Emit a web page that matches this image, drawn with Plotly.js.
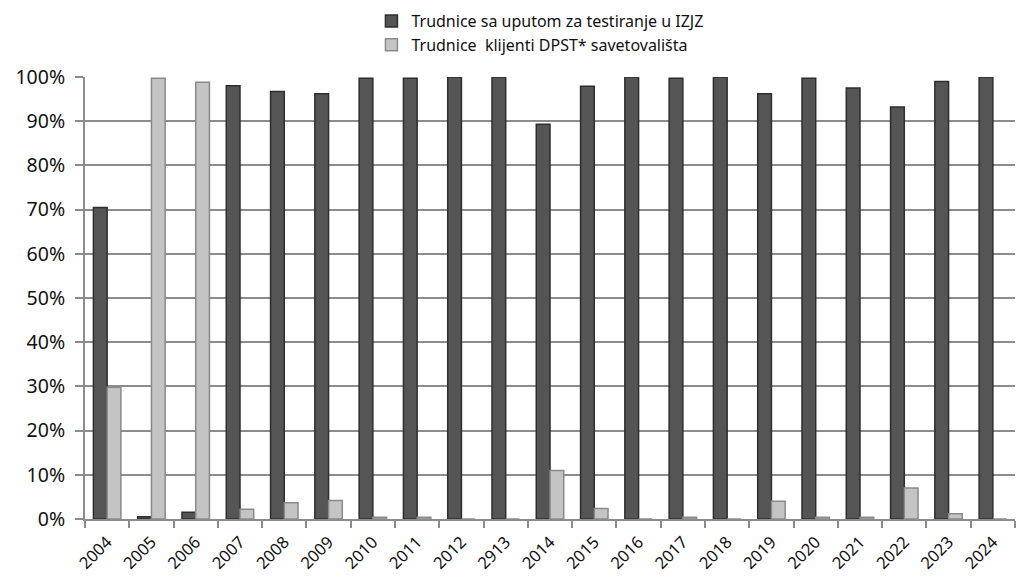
<!DOCTYPE html>
<html>
<head>
<meta charset="utf-8">
<script src="https://cdn.plot.ly/plotly-3.0.1.min.js"></script>
<style>html,body{margin:0;padding:0;background:#fff;}#chart{width:1022px;height:586px;}</style>
</head>
<body>
<div id="chart"></div>
<script>
const years = ["2004","2005","2006","2007","2008","2009","2010","2011","2012","2913","2014","2015","2016","2017","2018","2019","2020","2021","2022","2023","2024"];
const seriesIZJZ = [0.705,0.005,0.015,0.98,0.967,0.962,0.997,0.997,1.0,1.0,0.893,0.979,1.0,0.997,1.0,0.962,0.997,0.975,0.932,0.99,1.0];
const seriesDPST = [0.298,0.997,0.988,0.022,0.037,0.042,0.004,0.004,0.0,0.0,0.11,0.024,0.0,0.004,0.0,0.04,0.004,0.004,0.07,0.012,0.0];
const nameIZJZ = "Trudnice sa uputom za testiranje u IZJZ";
const nameDPST = "Trudnice  klijenti DPST* savetovališta";
const yTicks = [0,0.1,0.2,0.3,0.4,0.5,0.6,0.7,0.8,0.9,1.0];
const yTickText = ["0%","10%","20%","30%","40%","50%","60%","70%","80%","90%","100%"];

const font = "Noto Sans, Open Sans, sans-serif";
const data = [
  {type:"bar", x:years, y:seriesIZJZ, name:nameIZJZ,
   marker:{color:"#555555", line:{color:"#2e2e2e", width:1.5}}},
  {type:"bar", x:years, y:seriesDPST, name:nameDPST,
   marker:{color:"#c4c4c4", line:{color:"#8a8a8a", width:1.5}}}
];
const layout = {
  width:1022, height:586,
  margin:{l:85, r:7, t:77, b:67, autoexpand:false},
  paper_bgcolor:"#ffffff", plot_bgcolor:"#ffffff",
  font:{family:font, color:"#111111"},
  barmode:"group", bargap:0.38, bargroupgap:0,
  showlegend:true,
  legend:{x:0.308, y:1.165, xanchor:"left", yanchor:"top", orientation:"v",
          font:{family:font, size:16, color:"#111111"}, tracegroupgap:0,
          bgcolor:"rgba(0,0,0,0)", itemwidth:30, traceorder:"normal"},
  xaxis:{type:"category", tickangle:-45, tickfont:{family:font, size:16.5, color:"#111111"},
         ticks:"outside", tickson:"boundaries", ticklen:7, tickcolor:"#8c8c8c", tickwidth:2,
         showline:true, linecolor:"#8c8c8c", linewidth:2, showgrid:false, ticklabelstandoff:5},
  yaxis:{range:[0,1.0], tickvals:yTicks, ticktext:yTickText,
         tickfont:{family:font, size:19.5, color:"#111111"},
         ticks:"outside", ticklen:8, tickcolor:"#8c8c8c", tickwidth:2,
         showline:true, linecolor:"#8c8c8c", linewidth:2,
         showgrid:true, gridcolor:"#8c8c8c", gridwidth:2, zeroline:false,
         ticklabelstandoff:6}
};
Plotly.newPlot("chart", data, layout, {displayModeBar:false, staticPlot:true});
</script>
</body>
</html>
